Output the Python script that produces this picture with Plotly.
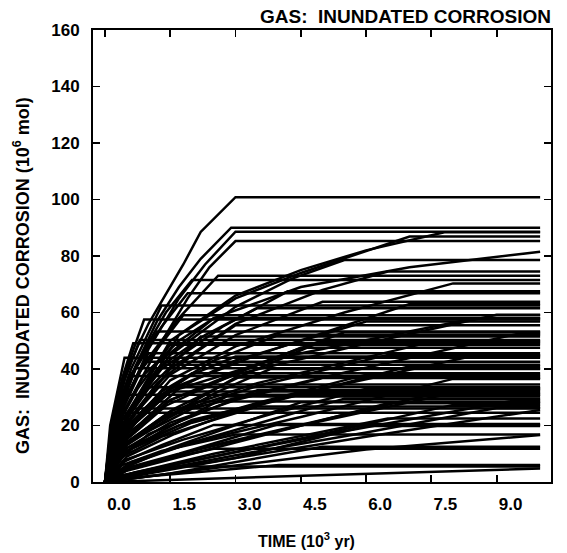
import plotly.graph_objects as go

# Time axis (10^3 yr) tick labels
x_tick_vals = [0.0, 1.5, 3.0, 4.5, 6.0, 7.5, 9.0]
x_tick_text = ["0.0", "1.5", "3.0", "4.5", "6.0", "7.5", "9.0"]
y_tick_vals = [0, 20, 40, 60, 80, 100, 120, 140, 160]

chart_title = "GAS:  INUNDATED CORROSION"
x_title = "TIME (10<sup>3</sup> yr)"
y_title = "GAS:  INUNDATED CORROSION (10<sup>6</sup> mol)"

# Realization curves: knot times (10^3 yr) and inundated-corrosion gas (10^6 mol)
realization_times = [
    [0, 0.25, 0.5, 0.75, 1.0, 1.5, 1.8, 2.2, 3.0, 10],
    [0, 0.3, 0.7, 1.2, 1.7, 2.2, 2.9, 10],
    [0, 0.4, 1.0, 1.7, 2.3, 3.0, 10],
    [0, 0.5, 1.5, 3, 4.5, 6, 7.8, 10],
    [0, 0.5, 1.7, 3, 4.5, 7, 10],
    [0, 0.4, 1.2, 1.9, 2.4, 3.0, 10],
    [0, 0.4, 1.2, 2.5, 4.5, 7, 10],
    [0, 0.5, 1.5, 3, 4.3, 5.5, 10],
    [0, 0.5, 1.5, 3, 5, 6.5, 10],
    [0, 0.3, 0.8, 1.4, 2.0, 10],
    [0, 0.5, 1.5, 3, 5.5, 8, 10],
    [0, 0.25, 0.7, 1.3, 1.9, 10],
    [0, 0.5, 1.5, 3, 5, 10],
    [0, 0.4, 1.2, 2.3, 3.5, 10],
    [0, 0.5, 1.5, 3, 6, 9, 10],
    [0, 0.3, 0.9, 1.7, 2.5, 10],
    [0, 0.5, 1.5, 3, 6, 10],
    [0, 0.2, 0.6, 1.2, 10],
    [0, 0.4, 1.3, 2.5, 4, 10],
    [0, 0.15, 0.45, 0.8, 10],
    [0, 0.15, 0.4, 0.65, 10],
    [0, 0.5, 1.5, 3.5, 7.5, 10],
    [0, 0.2, 0.55, 1.0, 10],
    [0, 0.4, 1.2, 2, 3, 10],
    [0, 0.2, 0.5, 0.9, 10],
    [0, 0.15, 0.4, 0.7, 10],
    [0, 0.3, 0.9, 2, 10],
    [0, 0.5, 1.5, 3, 5, 10],
    [0, 0.6, 2, 4.5, 8.5, 10],
    [0, 0.25, 0.7, 1.5, 10],
    [0, 0.15, 0.5, 10],
    [0, 0.7, 2.5, 5.5, 9.5, 10],
    [0, 0.5, 2, 4, 6.5, 10],
    [0, 0.4, 1.3, 2.3, 3.5, 10],
    [0, 1, 3, 6, 10],
    [0, 0.4, 1.3, 2.5, 10],
    [0, 2, 6, 10],
    [0, 1.5, 5, 10],
    [0, 1, 2.5, 4, 10],
    [0, 2, 5, 10],
    [0, 0.15, 0.45, 0.9, 10],
    [0, 0.25, 0.8, 1.8, 10],
    [0, 0.3, 1.0, 2.2, 10],
    [0, 0.25, 0.75, 1.5, 10],
    [0, 0.5, 1.5, 3.5, 6.5, 10],
    [0, 0.25, 0.7, 1.3, 10],
    [0, 0.5, 1.5, 2.6, 3.8, 10],
    [0, 0.15, 0.55, 10],
    [0, 0.6, 2, 4.5, 8, 10],
    [0, 0.2, 0.9, 10],
    [0, 0.5, 1.6, 3, 4.5, 10],
    [0, 0.4, 1.3, 2.8, 10],
    [0, 0.2, 0.6, 1.1, 10],
    [0, 0.8, 2.5, 5, 8, 10],
    [0, 0.15, 0.6, 10],
    [0, 0.2, 0.6, 1.3, 10],
    [0, 0.4, 1.3, 2.7, 4.2, 10],
    [0, 0.5, 1.5, 3.2, 5.5, 10],
    [0, 0.12, 0.45, 10],
    [0, 0.3, 0.9, 1.8, 10],
    [0, 1, 3, 6, 10],
    [0, 0.4, 1.2, 2.5, 10],
    [0, 0.4, 1.5, 10],
    [0, 0.4, 1.3, 3, 10],
    [0, 0.3, 0.9, 1.7, 2.6, 10],
    [0, 0.4, 1.2, 2.1, 3, 10],
    [0, 0.5, 1.4, 2.8, 4.5, 10],
    [0, 0.5, 1.7, 3.5, 6, 10],
    [0, 0.1, 0.3, 10],
    [0, 0.4, 1.5, 4, 8.5, 10],
    [0, 0.5, 2, 5, 9.5, 10],
    [0, 0.5, 2, 5, 8.5, 10],
    [0, 0.5, 2, 4.5, 7, 10],
    [0, 0.5, 1.8, 3.8, 6, 10],
    [0, 0.6, 2.2, 5, 7.5, 10],
    [0, 0.5, 2, 3.8, 5.5, 10],
    [0, 0.8, 3, 6, 9, 10],
    [0, 0.5, 1.7, 4, 10],
    [0, 0.5, 1.5, 3.5, 7, 10],
    [0, 0.5, 1.6, 3.2, 5, 10],
    [0, 0.4, 1.2, 3, 10],
    [0, 0.3, 1.5, 4.5, 10],
    [0, 0.2, 1.0, 3.5, 10],
    [0, 0.6, 2.5, 6.5, 10],
]
realization_gas = [
    [0, 25, 39, 48, 56, 69, 77, 88.5, 100.8, 100.8],
    [0, 24, 41, 57, 69, 79, 90, 90],
    [0, 26, 47, 65, 77, 88.6, 88.6],
    [0, 24, 50, 66, 75, 82, 88.4, 88.4],
    [0, 22, 52, 65, 74, 86.9, 86.9],
    [0, 24, 47, 65, 76, 85.3, 85.3],
    [0, 20, 42, 58, 69, 76, 81.5],
    [0, 23, 45, 62, 72, 78.6, 78.6],
    [0, 20, 40, 56, 68, 74.5, 74.5],
    [0, 24, 44, 60, 71.5, 71.5],
    [0, 18, 36, 48, 60, 70.3, 70.3],
    [0, 22, 40, 55, 66.8, 66.8],
    [0, 21, 38, 52, 63.8, 63.8],
    [0, 22, 40, 52, 61.5, 61.5],
    [0, 17, 29, 38, 49, 59.2, 59.2],
    [0, 21, 38, 50, 58, 58],
    [0, 18, 32, 43, 56.8, 56.8],
    [0, 21, 38, 53.3, 53.3],
    [0, 18, 32, 43, 52.1, 52.1],
    [0, 19, 36, 50.3, 50.3],
    [0, 21, 37, 49.1, 49.1],
    [0, 14, 25, 35, 49.6, 49.6],
    [0, 18, 32, 45.6, 45.6],
    [0, 17, 30, 38, 44.4, 44.4],
    [0, 17, 30, 42.6, 42.6],
    [0, 16, 29, 40.3, 40.3],
    [0, 14, 26, 38.5, 38.5],
    [0, 12, 21, 29, 36.8, 36.8],
    [0, 5, 11, 20, 33.2, 33.2],
    [0, 12, 21, 32, 32],
    [0, 15, 30.9, 30.9],
    [0, 3.5, 9, 18, 29.1, 29.1],
    [0, 4, 10, 18, 27.9, 27.9],
    [0, 9, 16, 21, 26.7, 26.7],
    [0, 3, 8.5, 16, 25.5],
    [0, 7, 13, 20.2, 20.2],
    [0, 4, 11.5, 16.6],
    [0, 3, 12.5, 12.5],
    [0, 2, 4, 6, 6],
    [0, 1, 2.5, 4.8],
    [0, 20, 38, 57.5, 57.5],
    [0, 21, 39, 59, 59],
    [0, 18, 33, 51.5, 51.5],
    [0, 19, 33, 48.6, 48.6],
    [0, 14, 24, 34, 45, 45],
    [0, 16, 28, 41.5, 41.5],
    [0, 13, 23, 32, 40, 40],
    [0, 18, 37.5, 37.5],
    [0, 7, 14, 23, 36.5, 36.5],
    [0, 14, 33.5, 33.5],
    [0, 9, 17, 25, 31.5, 31.5],
    [0, 10, 18, 30.3, 30.3],
    [0, 11, 19, 28.5, 28.5],
    [0, 3.5, 9, 17, 27.3, 27.3],
    [0, 11, 26, 26],
    [0, 22, 40, 62.5, 62.5],
    [0, 22, 40, 55, 67.5, 67.5],
    [0, 16, 29, 40, 53, 53],
    [0, 20, 44, 44],
    [0, 12, 22, 34.5, 34.5],
    [0, 3.5, 8.5, 19.8, 19.8],
    [0, 4, 7.5, 11.8, 11.8],
    [0, 2.5, 5.5, 5.5],
    [0, 6, 11, 16.8, 16.8],
    [0, 22, 42, 58, 73, 73],
    [0, 19, 35, 46, 55.5, 55.5],
    [0, 15, 27, 37, 47.5, 47.5],
    [0, 11, 20, 28, 38, 38],
    [0, 10, 24.5, 24.5],
    [0, 18, 32, 44, 58, 58],
    [0, 14, 26, 37, 52.5, 52.5],
    [0, 12, 22, 33, 44.8, 44.8],
    [0, 11, 21, 31, 41, 41],
    [0, 8, 15, 24, 33, 33],
    [0, 5, 12, 22, 31, 31],
    [0, 6, 14, 22, 29.5, 29.5],
    [0, 3, 9.5, 17.5, 26.2, 26.2],
    [0, 5, 10, 20.5, 20.5],
    [0, 19, 33, 45, 63, 63],
    [0, 14, 26, 38, 49.9, 49.9],
    [0, 12, 21, 37, 37],
    [0, 4, 12, 28.2, 28.2],
    [0, 6, 17, 32.5, 32.5],
    [0, 3, 10, 22.5, 22.5],
]

FONT = "Liberation Sans, Arial, sans-serif"

fig = go.Figure()
for t, g in zip(realization_times, realization_gas):
    fig.add_trace(go.Scatter(
        x=t, y=g, mode="lines",
        line=dict(color="black", width=2.5),
        showlegend=False, hoverinfo="skip",
    ))

axis_common = dict(
    ticks="inside", ticklen=7, tickwidth=1.8, tickcolor="black",
    showline=True, linewidth=2, linecolor="black", mirror="ticks",
    showgrid=False, zeroline=False, automargin=False,
    tickfont=dict(family=FONT, size=17, weight="bold"),
)

fig.update_layout(
    width=567, height=553,
    margin=dict(l=93, r=16, t=30, b=71, autoexpand=False),
    paper_bgcolor="white", plot_bgcolor="white",
    font=dict(family=FONT, color="black", size=16),
    showlegend=False,
    hovermode=False,
    xaxis=dict(
        range=[-0.275, 10.25],
        tickvals=x_tick_vals, ticktext=x_tick_text,
        ticklabelshift=14, ticklabelstandoff=6,
        **axis_common,
    ),
    yaxis=dict(
        range=[0, 160],
        tickvals=y_tick_vals,
        ticklabelstandoff=8,
        **axis_common,
    ),
    annotations=[
        dict(text=chart_title, xref="paper", yref="paper",
             x=1.005, y=1.0, xanchor="right", yanchor="middle", yshift=14,
             showarrow=False, font=dict(family=FONT, size=19, weight="bold", color="black")),
        dict(text=x_title, xref="paper", yref="paper",
             x=0.467, y=0.0, xanchor="center", yanchor="middle", yshift=-58,
             showarrow=False, font=dict(family=FONT, size=16, weight="bold", color="black")),
        dict(text=y_title, xref="paper", yref="paper", textangle=-90,
             x=0.0, y=0.456, xanchor="center", yanchor="middle", xshift=-71,
             showarrow=False, font=dict(family=FONT, size=18, weight="bold", color="black")),
    ],
)

# remove the browser's default 8 px body margin so the figure fills the window exactly
fig.write_html(
    "out.html",
    config={"displayModeBar": False, "staticPlot": True},
    post_script="document.body.style.margin='0';",
)
